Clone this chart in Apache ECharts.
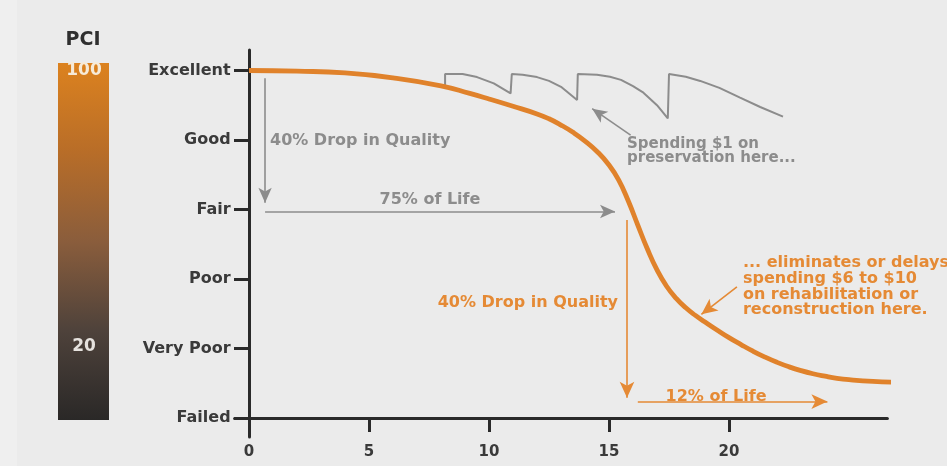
<!DOCTYPE html>
<html>
<head>
<meta charset="utf-8">
<script src="https://cdn.jsdelivr.net/npm/echarts@6/dist/echarts.min.js"></script>
<style>html,body{margin:0;padding:0;background:#ebebeb}#c{width:947px;height:466px}</style>
</head>
<body>
<div id="c"></div>
<script>
// ---- data ----
const xTicks = [0, 5, 10, 15, 20];
const yTicks = [0, 20, 40, 60, 80, 100];
const yNames = ['Failed', 'Very Poor', 'Poor', 'Fair', 'Good', 'Excellent'];
const pciLabels = ['100', '20'];

// pavement condition curve [age, PCI]
const curve = [[0,100],[2,99.8],[4,99.3],[6,97.9],[8,95.6],[9.2,93.4],[10,91.8],[11,89.7],[12,87.5],[12.5,86.1],
  [13,84.3],[13.5,82.2],[14,79.7],[14.5,76.7],[15,72.8],[15.4,68.5],[15.8,62.5],[16.2,55.5],[16.6,48.6],[17,42.6],
  [17.4,37.9],[17.8,34.4],[18.2,31.7],[18.6,29.5],[19,27.6],[19.5,25.3],[20,23.1],[20.5,21.1],[21,19.2],[21.5,17.5],[22,16],
  [22.5,14.7],[23,13.6],[23.5,12.7],[24,12],[24.5,11.4],[25,11],[26,10.5],[27.2,10.2]];

// preservation sawtooth [age, PCI]
const sawtooth = [[8.17,95.5],[8.17,99],[8.9,99],[9.5,98.1],[10.2,96.3],[10.9,93.4],
  [10.95,99],[11.4,98.8],[12,98.1],[12.5,97],[13,95.3],[13.67,91.5],
  [13.7,99],[14.5,98.8],[15.04,98.2],[15.5,97.3],[16,95.5],[16.4,93.8],[17,90],[17.45,86.2],
  [17.5,99],[18.2,98.2],[18.8,97],[19.6,95],[20.46,92.2],[21.3,89.5],[22.25,86.7]];

// arrows: [from, to] in [age, PCI]
const grayArrows = [[[0.67,97.8],[0.67,61.9]], [[0.67,59.4],[15.25,59.4]], [[15.9,81.4],[14.3,89]]];
const orangeArrows = [[[15.75,57],[15.75,5.8]], [[16.2,4.7],[24.1,4.7]], [[20.33,37.7],[18.85,29.8]]];

// annotation texts and anchors [age, PCI]
const grayNotes = ['40% Drop in Quality', '75% of Life', 'Spending $1 on\npreservation here...'];
const grayNoteAt = [[0.875,79.7], [7.54,62.9], [15.75,76.7]];
const orangeNotes = ['40% Drop in Quality', '12% of Life', '... eliminates or delays\nspending $6 to $10\non rehabilitation or\nreconstruction here.'];
const orangeNoteAt = [[15.375,33.1], [19.46,6.2], [20.58,37.8]];

// ---- styles ----
const FONT = 'DejaVu Sans';
const ORANGE = '#e0822b';
const ORANGE_T = '#e58a35';
const GRAY = '#8c8c8c';
const INK = '#2a2a2a';
const grayAlign = ['left', 'center', 'left'];
const orangeAlign = ['right', 'center', 'left'];
const noteSize = [16, 16, 15];
const noteLH = [16, 16, 14];
const oNoteSize = [16, 16, 16];
const oNoteLH = [16, 16, 15.7];

const chart = echarts.init(document.getElementById('c'), null, {renderer: 'canvas'});

function arrowLines(list, color, size) {
  return {
    silent: true, animation: false,
    symbol: ['none', 'arrow'], symbolSize: size,
    label: {show: false},
    lineStyle: {color: color, width: 1.6, type: 'solid'},
    emphasis: {disabled: true},
    data: list.map(a => [{coord: a[0]}, {coord: a[1]}])
  };
}
function notes(texts, at, color, align, sizes, lhs) {
  return {
    silent: true, animation: false,
    symbol: 'circle', symbolSize: 0,
    data: texts.map((t, i) => ({
      coord: at[i], value: 0,
      label: {show: true, position: 'inside', formatter: t, align: align[i], verticalAlign: 'middle',
        color: color, fontFamily: FONT, fontWeight: 'bold', fontSize: sizes[i], lineHeight: lhs[i]}
    }))
  };
}

const option = {
  backgroundColor: '#ebebeb',
  animation: false,
  grid: {left: 234.6, right: 59.6, top: 50, bottom: 29, containLabel: false},
  xAxis: {
    type: 'value', min: -0.6, max: 26.6,
    axisLine: {show: true, onZero: true, lineStyle: {color: INK, width: 3}},
    axisTick: {show: true, length: 14, customValues: xTicks, lineStyle: {color: INK, width: 3}},
    axisLabel: {customValues: xTicks, margin: 8, color: '#3a3a3a', fontFamily: FONT, fontWeight: 'bold', fontSize: 15},
    splitLine: {show: false}
  },
  yAxis: {
    type: 'value', min: -5.5, max: 105.9,
    axisLine: {show: true, onZero: true, lineStyle: {color: INK, width: 3}},
    axisTick: {show: true, length: 15, customValues: yTicks, lineStyle: {color: INK, width: 3}},
    axisLabel: {customValues: yTicks, formatter: v => yNames[yTicks.indexOf(v)] || '', margin: 4,
      color: '#3a3a3a', fontFamily: FONT, fontWeight: 'bold', fontSize: 16},
    splitLine: {show: false}
  },
  graphic: [
    {type: 'rect', left: 0, top: 0, shape: {width: 17, height: 466}, style: {fill: '#efefef'}, z: -1},
    {type: 'rect', left: 58, top: 63, shape: {width: 51, height: 357},
      style: {fill: new echarts.graphic.LinearGradient(0, 0, 0, 1, [
        {offset: 0, color: '#dc821f'}, {offset: 0.25, color: '#b86d28'}, {offset: 0.5, color: '#8a5d3c'},
        {offset: 0.75, color: '#4e423b'}, {offset: 1, color: '#2a2827'}])}},
    {type: 'text', style: {text: 'PCI', x: 83, y: 40, align: 'center', verticalAlign: 'middle',
      fill: '#2f2f2f', font: 'bold 19px "DejaVu Sans"'}},
    {type: 'text', style: {text: pciLabels[0], x: 84, y: 71, align: 'center', verticalAlign: 'middle',
      fill: '#f6ead8', font: 'bold 17px "DejaVu Sans"'}},
    {type: 'text', style: {text: pciLabels[1], x: 84, y: 347, align: 'center', verticalAlign: 'middle',
      fill: '#e6e2de', font: 'bold 17px "DejaVu Sans"'}}
  ],
  series: [
    {type: 'line', name: 'Condition', data: curve, smooth: 0.5, showSymbol: false, clip: false, z: 4,
      lineStyle: {color: ORANGE, width: 4.8}, itemStyle: {color: ORANGE},
      markLine: arrowLines(orangeArrows, ORANGE_T, [11, 16]),
      markPoint: notes(orangeNotes, orangeNoteAt, ORANGE_T, orangeAlign, oNoteSize, oNoteLH)},
    {type: 'line', name: 'Preservation', data: sawtooth, smooth: false, showSymbol: false, clip: false, z: 3,
      lineStyle: {color: GRAY, width: 2}, itemStyle: {color: GRAY},
      markLine: arrowLines(grayArrows, GRAY, [10, 15]),
      markPoint: notes(grayNotes, grayNoteAt, GRAY, grayAlign, noteSize, noteLH)}
  ]
};
chart.setOption(option);
</script>
</body>
</html>
